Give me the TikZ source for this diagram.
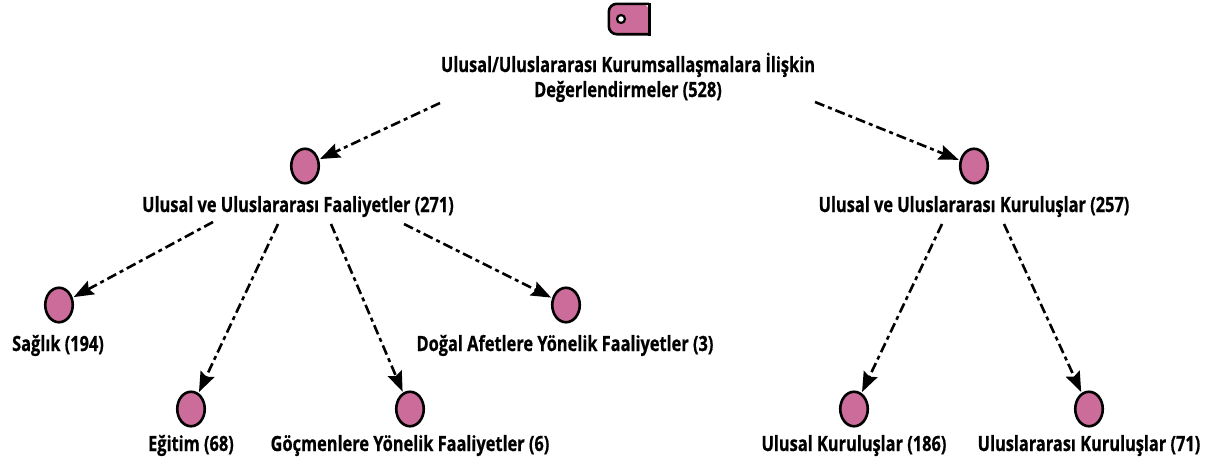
\documentclass[tikz,border=0pt]{standalone}
\usepackage{fontspec}
\setmainfont[FakeStretch=0.78,BoldFeatures={FakeBold=0.6}]{Open Sans}
\usetikzlibrary{arrows.meta,shapes.geometric}
\definecolor{pinkf}{RGB}{204,108,154}
\tikzset{
  dot/.style={ellipse,draw=black,fill=pinkf,line width=2.6pt,minimum width=27.5pt,minimum height=34.5pt,inner sep=0pt},
  lab/.style={font=\bfseries\fontsize{21}{25}\selectfont,inner sep=0pt,anchor=base,align=center},
  conn/.style={line width=2.6pt,dash pattern=on 10pt off 4pt on 4pt off 4pt,-{Stealth[length=20pt,width=15pt,inset=3pt]},shorten >=1pt}
}
\begin{document}
\begin{tikzpicture}[x=1pt,y=-1pt]
\useasboundingbox (0,0) rectangle (1210,463);
% root tag
\node[inner sep=0pt,minimum width=40pt,minimum height=30pt] (root) at (629,19) {};
\fill[pinkf,rounded corners=8pt] (root.south east) -- (root.south west) -- (root.north west) -- (root.north east) [sharp corners] -- cycle;
\draw[line width=2.6pt,rounded corners=8pt] (root.south east) -- (root.south west) -- (root.north west) -- (root.north east);
\draw[line width=2.6pt,line cap=rect] (root.north east) -- (root.south east);
\node[circle,draw=black,fill=white,line width=2.2pt,minimum size=8pt,inner sep=0pt] (hole) at (621,19) {};
\node[lab] (rootl) at (628,97) {Ulusal/Uluslararası Kurumsallaşmalara İlişkin\\Değerlendirmeler (528)};

% level 1
\node[dot] (f) at (305,166) {};
\node[lab] (fl) at (298,212) {Ulusal ve Uluslararası Faaliyetler (271)};
\node[dot] (k) at (974,166) {};
\node[lab] (kl) at (974,212) {Ulusal ve Uluslararası Kuruluşlar (257)};

% level 2
\node[dot] (s) at (59,305) {};
\node[lab] (sl) at (58,351) {Sağlık (194)};
\node[dot] (d) at (566,305) {};
\node[lab] (dl) at (565,351) {Doğal Afetlere Yönelik Faaliyetler (3)};
\node[dot] (e) at (191,409) {};
\node[lab] (el) at (191,451) {Eğitim (68)};
\node[dot] (g) at (410,409) {};
\node[lab] (gl) at (410,451) {Göçmenlere Yönelik Faaliyetler (6)};
\node[dot] (u) at (854,409) {};
\node[lab] (ul) at (854,451) {Ulusal Kuruluşlar (186)};
\node[dot] (i) at (1089,409) {};
\node[lab] (il) at (1089,451) {Uluslararası Kuruluşlar (71)};

% edge starts
\coordinate (a1) at (440,103);
\coordinate (a2) at (815,102);
\coordinate (b1) at (213,222);
\coordinate (b2) at (278,224);
\coordinate (b3) at (331,224);
\coordinate (b4) at (404,224);
\coordinate (c1) at (942,224);
\coordinate (c2) at (1004,224);

\draw[conn] (a1) -- (f);
\draw[conn] (a2) -- (k);
\draw[conn] (b1) -- (s);
\draw[conn] (b2) -- (e);
\draw[conn] (b3) -- (g);
\draw[conn] (b4) -- (d);
\draw[conn] (c1) -- (u);
\draw[conn] (c2) -- (i);
\end{tikzpicture}
\end{document}
